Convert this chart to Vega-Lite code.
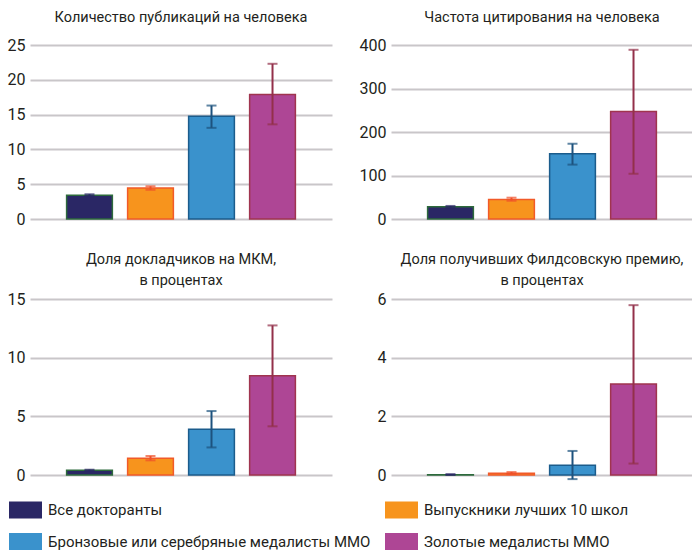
{
  "$schema": "https://vega.github.io/schema/vega-lite/v6.json",
  "padding": {"left": 7, "top": 9, "right": 0, "bottom": 0},
  "autosize": {"type": "pad"},
  "datasets": {
    "d": [
      {"p": 1, "g": "Все докторанты", "v": 3.4, "lo": 3.3, "hi": 3.55},
      {"p": 1, "g": "Выпускники лучших 10 школ", "v": 4.45, "lo": 4.2, "hi": 4.7},
      {"p": 1, "g": "Бронзовые или серебряные медалисты ММО", "v": 14.75, "lo": 13.1, "hi": 16.3},
      {"p": 1, "g": "Золотые медалисты ММО", "v": 17.9, "lo": 13.6, "hi": 22.3},
      {"p": 2, "g": "Все докторанты", "v": 28, "lo": 26, "hi": 30},
      {"p": 2, "g": "Выпускники лучших 10 школ", "v": 45, "lo": 42, "hi": 49},
      {"p": 2, "g": "Бронзовые или серебряные медалисты ММО", "v": 150, "lo": 125, "hi": 173},
      {"p": 2, "g": "Золотые медалисты ММО", "v": 247, "lo": 104, "hi": 389},
      {"p": 3, "g": "Все докторанты", "v": 0.4, "lo": 0.35, "hi": 0.45},
      {"p": 3, "g": "Выпускники лучших 10 школ", "v": 1.42, "lo": 1.25, "hi": 1.62},
      {"p": 3, "g": "Бронзовые или серебряные медалисты ММО", "v": 3.9, "lo": 2.35, "hi": 5.45},
      {"p": 3, "g": "Золотые медалисты ММО", "v": 8.45, "lo": 4.15, "hi": 12.75},
      {"p": 4, "g": "Все докторанты", "v": 0.01, "lo": 0.0, "hi": 0.03},
      {"p": 4, "g": "Выпускники лучших 10 школ", "v": 0.06, "lo": 0.03, "hi": 0.1},
      {"p": 4, "g": "Бронзовые или серебряные медалисты ММО", "v": 0.33, "lo": -0.14, "hi": 0.82},
      {"p": 4, "g": "Золотые медалисты ММО", "v": 3.1, "lo": 0.39, "hi": 5.79}
    ]
  },
  "config": {
    "font": "Roboto",
    "view": {"stroke": null},
    "axisY": {
      "domain": false,
      "ticks": false,
      "grid": true,
      "gridColor": "#c9c6c9",
      "gridWidth": 2,
      "labelFontSize": 16,
      "labelColor": "#231f20",
      "labelPadding": 5,
      "labelOverlap": false,
      "title": null
    },
    "title": {"fontSize": 14.5, "fontWeight": "normal", "color": "#231f20", "offset": 12, "lineHeight": 21},
    "legend": {
      "orient": "none",
      "legendX": -21,
      "legendY": 448,
      "direction": "horizontal",
      "columns": 2,
      "symbolType": "M-1,-0.52H1V0.52H-1Z",
      "symbolSize": 1089,
      "symbolStrokeWidth": 0,
      "labelFontSize": 15,
      "labelColor": "#231f20",
      "labelOffset": 6,
      "labelLimit": 400,
      "rowPadding": 6,
      "columnPadding": 14
    }
  },
  "columns": 2,
  "spacing": {"column": 27, "row": 24},
  "resolve": {"scale": {"y": "independent"}},
  "concat": [
    {
      "width": 302, "height": 174,
      "title": "Количество публикаций на человека",
      "data": {"name": "d"},
      "transform": [{"filter": "datum.p == 1"}],
      "encoding": {
        "x": {"field": "g", "type": "nominal", "axis": null,
              "sort": ["Все докторанты", "Выпускники лучших 10 школ", "Бронзовые или серебряные медалисты ММО", "Золотые медалисты ММО"],
              "scale": {"paddingInner": 0.25, "paddingOuter": 0.6}}
      },
      "layer": [
        {"mark": {"type": "bar", "strokeWidth": 1.5},
         "encoding": {
           "y": {"field": "v", "type": "quantitative", "scale": {"domain": [0, 25], "nice": false}, "axis": {"values": [0, 5, 10, 15, 20, 25]}},
           "fill": {"field": "g", "type": "nominal", "legend": {"title": null}, "scale": {"domain": ["Все докторанты", "Выпускники лучших 10 школ", "Бронзовые или серебряные медалисты ММО", "Золотые медалисты ММО"], "range": ["#2a2765", "#f7941d", "#3a92cc", "#ae4695"]}},
           "stroke": {"field": "g", "type": "nominal", "legend": null, "scale": {"domain": ["Золотые медалисты ММО", "Бронзовые или серебряные медалисты ММО", "Выпускники лучших 10 школ", "Все докторанты"], "range": ["#a0344f", "#1b5c8c", "#f15a29", "#2d6a3c"]}}
         }},
        {"mark": {"type": "rule", "strokeWidth": 2},
         "encoding": {
           "y": {"field": "lo", "type": "quantitative", "axis": {"values": [0, 5, 10, 15, 20, 25]}},
           "y2": {"field": "hi"},
           "color": {"field": "g", "type": "nominal", "legend": null, "scale": {"domain": ["Золотые медалисты ММО", "Бронзовые или серебряные медалисты ММО", "Выпускники лучших 10 школ", "Все докторанты"], "range": ["#93304a", "#1d527e", "#f0502a", "#2a2765"]}}
         }},
        {"mark": {"type": "tick", "size": 10, "thickness": 2},
         "encoding": {"y": {"field": "hi", "type": "quantitative", "axis": {"values": [0, 5, 10, 15, 20, 25]}}, "color": {"field": "g", "type": "nominal", "legend": null}}},
        {"mark": {"type": "tick", "size": 10, "thickness": 2},
         "encoding": {"y": {"field": "lo", "type": "quantitative", "axis": {"values": [0, 5, 10, 15, 20, 25]}}, "color": {"field": "g", "type": "nominal", "legend": null}}}
      ]
    },
    {
      "width": 302, "height": 174,
      "title": "Частота цитирования на человека",
      "data": {"name": "d"},
      "transform": [{"filter": "datum.p == 2"}],
      "encoding": {
        "x": {"field": "g", "type": "nominal", "axis": null,
              "sort": ["Все докторанты", "Выпускники лучших 10 школ", "Бронзовые или серебряные медалисты ММО", "Золотые медалисты ММО"],
              "scale": {"paddingInner": 0.25, "paddingOuter": 0.6}}
      },
      "layer": [
        {"mark": {"type": "bar", "strokeWidth": 1.5},
         "encoding": {
           "y": {"field": "v", "type": "quantitative", "scale": {"domain": [0, 400], "nice": false}, "axis": {"values": [0, 100, 200, 300, 400]}},
           "fill": {"field": "g", "type": "nominal", "legend": {"title": null}},
           "stroke": {"field": "g", "type": "nominal", "legend": null}
         }},
        {"mark": {"type": "rule", "strokeWidth": 2},
         "encoding": {
           "y": {"field": "lo", "type": "quantitative", "axis": {"values": [0, 100, 200, 300, 400]}},
           "y2": {"field": "hi"},
           "color": {"field": "g", "type": "nominal", "legend": null}
         }},
        {"mark": {"type": "tick", "size": 10, "thickness": 2},
         "encoding": {"y": {"field": "hi", "type": "quantitative", "axis": {"values": [0, 100, 200, 300, 400]}}, "color": {"field": "g", "type": "nominal", "legend": null}}},
        {"mark": {"type": "tick", "size": 10, "thickness": 2},
         "encoding": {"y": {"field": "lo", "type": "quantitative", "axis": {"values": [0, 100, 200, 300, 400]}}, "color": {"field": "g", "type": "nominal", "legend": null}}}
      ]
    },
    {
      "width": 302, "height": 176,
      "title": {"text": ["Доля докладчиков на МКМ,", "в процентах"], "offset": 3},
      "data": {"name": "d"},
      "transform": [{"filter": "datum.p == 3"}],
      "encoding": {
        "x": {"field": "g", "type": "nominal", "axis": null,
              "sort": ["Все докторанты", "Выпускники лучших 10 школ", "Бронзовые или серебряные медалисты ММО", "Золотые медалисты ММО"],
              "scale": {"paddingInner": 0.25, "paddingOuter": 0.6}}
      },
      "layer": [
        {"mark": {"type": "bar", "strokeWidth": 1.5},
         "encoding": {
           "y": {"field": "v", "type": "quantitative", "scale": {"domain": [0, 15], "nice": false}, "axis": {"values": [0, 5, 10, 15]}},
           "fill": {"field": "g", "type": "nominal", "legend": {"title": null}},
           "stroke": {"field": "g", "type": "nominal", "legend": null}
         }},
        {"mark": {"type": "rule", "strokeWidth": 2},
         "encoding": {
           "y": {"field": "lo", "type": "quantitative", "axis": {"values": [0, 5, 10, 15]}},
           "y2": {"field": "hi"},
           "color": {"field": "g", "type": "nominal", "legend": null}
         }},
        {"mark": {"type": "tick", "size": 10, "thickness": 2},
         "encoding": {"y": {"field": "hi", "type": "quantitative", "axis": {"values": [0, 5, 10, 15]}}, "color": {"field": "g", "type": "nominal", "legend": null}}},
        {"mark": {"type": "tick", "size": 10, "thickness": 2},
         "encoding": {"y": {"field": "lo", "type": "quantitative", "axis": {"values": [0, 5, 10, 15]}}, "color": {"field": "g", "type": "nominal", "legend": null}}}
      ]
    },
    {
      "width": 302, "height": 176,
      "title": {"text": ["Доля получивших Филдсовскую премию,", "в процентах"], "offset": 3},
      "data": {"name": "d"},
      "transform": [{"filter": "datum.p == 4"}],
      "encoding": {
        "x": {"field": "g", "type": "nominal", "axis": null,
              "sort": ["Все докторанты", "Выпускники лучших 10 школ", "Бронзовые или серебряные медалисты ММО", "Золотые медалисты ММО"],
              "scale": {"paddingInner": 0.25, "paddingOuter": 0.6}}
      },
      "layer": [
        {"mark": {"type": "bar", "strokeWidth": 1.5},
         "encoding": {
           "y": {"field": "v", "type": "quantitative", "scale": {"domain": [0, 6], "nice": false}, "axis": {"values": [0, 2, 4, 6]}},
           "fill": {"field": "g", "type": "nominal", "legend": {"title": null}},
           "stroke": {"field": "g", "type": "nominal", "legend": null}
         }},
        {"mark": {"type": "rule", "strokeWidth": 2},
         "encoding": {
           "y": {"field": "lo", "type": "quantitative", "axis": {"values": [0, 2, 4, 6]}},
           "y2": {"field": "hi"},
           "color": {"field": "g", "type": "nominal", "legend": null}
         }},
        {"mark": {"type": "tick", "size": 10, "thickness": 2},
         "encoding": {"y": {"field": "hi", "type": "quantitative", "axis": {"values": [0, 2, 4, 6]}}, "color": {"field": "g", "type": "nominal", "legend": null}}},
        {"mark": {"type": "tick", "size": 10, "thickness": 2},
         "encoding": {"y": {"field": "lo", "type": "quantitative", "axis": {"values": [0, 2, 4, 6]}}, "color": {"field": "g", "type": "nominal", "legend": null}}}
      ]
    }
  ]
}
